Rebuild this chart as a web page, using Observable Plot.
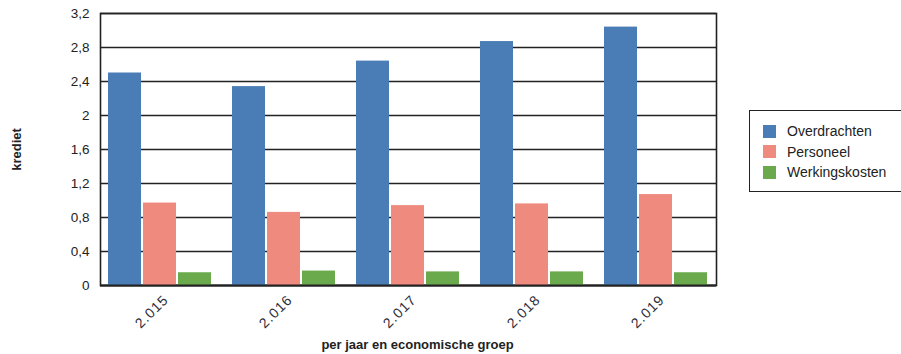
<!DOCTYPE html>
<html>
<head>
<meta charset="utf-8">
<script src="https://cdn.jsdelivr.net/npm/d3@7"></script>
<script src="https://cdn.jsdelivr.net/npm/@observablehq/plot@0.6"></script>
<style>
  html, body { margin: 0; padding: 0; background: #fff; }
  #wrap { position: relative; width: 901px; height: 354px; font-family: "Liberation Sans", Arial, sans-serif; }
  #wrap svg { font-family: "Liberation Sans", Arial, sans-serif; position: absolute; left: 0; top: 0; }
  [aria-label="x-axis label"] text, [aria-label="x-axis label"],
  [aria-label="y-axis label"] text, [aria-label="y-axis label"] { font-weight: bold; }
  [aria-label="x-axis label"] text { translate: 9px 0; }
  [aria-label="fx-axis tick label"] { font-size: 14px; letter-spacing: 1px; fill: #2a2d3a; }
  [aria-label="y-axis tick label"] { font-size: 13.5px; }
  #legend { position: absolute; left: 749px; top: 110px; width: 160px; height: 82px; box-sizing: border-box;
            border: 1.5px solid #222; background: #fff; padding: 10px 0 0 13px; font-size: 14px; color: #222; }
  #legend .item { display: flex; align-items: center; height: 20.5px; }
  #legend .sw { width: 13px; height: 13px; margin-right: 11px; }
</style>
</head>
<body>
<div id="wrap"><div id="legend"></div></div>
<script>
const years = ["2015", "2016", "2017", "2018", "2019"];
const yearLabels = ["2.015", "2.016", "2.017", "2.018", "2.019"];
const series = ["Overdrachten", "Personeel", "Werkingskosten"];
const overdrachten = [2.50, 2.34, 2.64, 2.87, 3.04];
const personeel = [0.97, 0.86, 0.94, 0.96, 1.07];
const werkingskosten = [0.15, 0.17, 0.16, 0.16, 0.15];
const colors = ["#4a7db5", "#ee8b7e", "#6aaa4c"];
const yTicks = [0, 0.4, 0.8, 1.2, 1.6, 2, 2.4, 2.8, 3.2];

const seriesValues = [overdrachten, personeel, werkingskosten];
const data = [];
years.forEach((y, i) => series.forEach((s, j) => data.push({year: y, series: s, value: seriesValues[j][i]})));
const yearLabel = new Map(years.map((y, i) => [y, yearLabels[i]]));

const common = {
  width: 901,
  height: 354,
  marginLeft: 100,
  marginRight: 185,
  marginTop: 13,
  marginBottom: 69,
  style: {fontSize: "13px", color: "#222", background: "transparent"}
};

// Background: grid, frame, y axis, x-axis title
const back = Plot.plot({
  ...common,
  x: {domain: years, tickSize: 0, tickFormat: () => "", label: "per jaar en economische groep",
      labelAnchor: "center", labelOffset: 63, labelArrow: "none"},
  y: {domain: [0, 3.2], ticks: yTicks, tickSize: 0, tickPadding: 11,
      tickFormat: d => String(d).replace(".", ","), label: "krediet", labelAnchor: "center",
      labelOffset: 89, labelArrow: "none"},
  marks: [
    Plot.ruleY(yTicks, {stroke: "#222", strokeWidth: 1.6}),
    Plot.frame({stroke: "#222", strokeWidth: 1.6})
  ]
});

// Foreground: grouped bars with fx facets
const front = Plot.plot({
  ...common,
  fx: {domain: years, paddingInner: 0.15, paddingOuter: 0.04},
  x: {domain: series, paddingInner: 0.07, paddingOuter: 0, axis: null},
  y: {domain: [0, 3.2], axis: null},
  color: {domain: series, range: colors},
  marks: [
    Plot.barY(data, {fx: "year", x: "series", y: "value", fill: "series"}),
    Plot.axisFx({anchor: "bottom", tickRotate: -45, tickSize: 0, tickPadding: 12, dx: 6,
                 tickFormat: d => yearLabel.get(d), label: null})
  ]
});

const zero = Plot.plot({
  ...common,
  y: {domain: [0, 3.2], axis: null},
  marks: [Plot.ruleY([0], {stroke: "#222", strokeWidth: 2.2})]
});

const wrap = document.getElementById("wrap");
wrap.prepend(back, front, zero);

const legend = document.getElementById("legend");
series.forEach((s, i) => {
  const item = document.createElement("div");
  item.className = "item";
  const sw = document.createElement("span");
  sw.className = "sw";
  sw.style.background = colors[i];
  const t = document.createElement("span");
  t.textContent = s;
  item.append(sw, t);
  legend.append(item);
});
</script>
</body>
</html>
